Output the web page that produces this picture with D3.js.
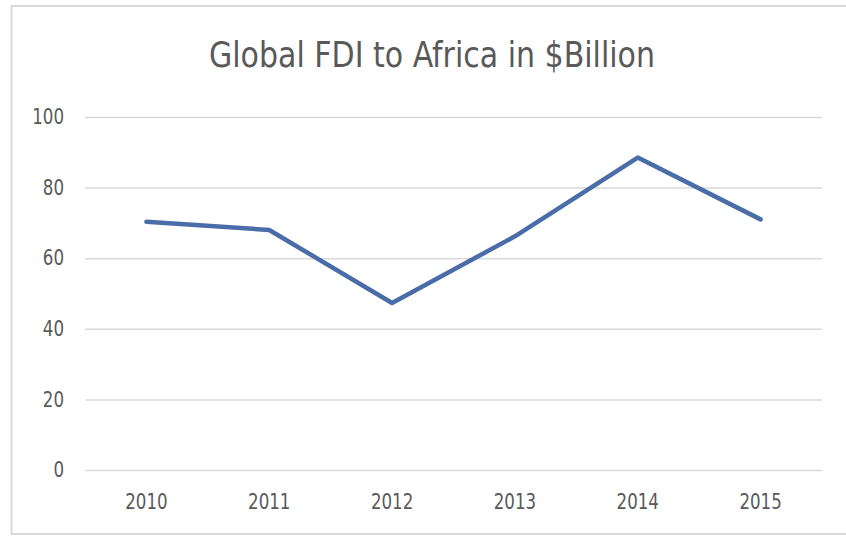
<!DOCTYPE html>
<html>
<head>
<meta charset="utf-8">
<script src="https://cdn.jsdelivr.net/npm/d3@7"></script>
<style>
  html, body { margin: 0; padding: 0; background: #ffffff; }
  svg { display: block; }
  text { font-family: "DejaVu Sans Condensed", "Liberation Sans", sans-serif; fill: #595959; }
</style>
</head>
<body>
<svg id="chart" width="846" height="537"></svg>
<script>
const title = "Global FDI to Africa in $Billion";
const years = ["2010", "2011", "2012", "2013", "2014", "2015"];
const fdi = [70.3, 68.0, 47.3, 66.2, 88.5, 71.0];
const yTicks = [0, 20, 40, 60, 80, 100];

const W = 846, H = 537;
const plot = { left: 85, right: 822, top: 117, bottom: 470 };
const digitW = 10.6;

const svg = d3.select("#chart");

// outer chart border
svg.append("rect")
  .attr("x", 11.5).attr("y", 6).attr("width", W + 10).attr("height", 528)
  .attr("fill", "none").attr("stroke", "#d9d9d9").attr("stroke-width", 2);

const x = d3.scaleBand().domain(years).range([plot.left, plot.right]);
const y = d3.scaleLinear().domain([0, 100]).range([plot.bottom, plot.top]);

// gridlines
svg.append("g")
  .attr("transform", `translate(${plot.left},0)`)
  .call(d3.axisLeft(y).tickValues(yTicks).tickSize(-(plot.right - plot.left)).tickFormat(""))
  .call(g => g.select(".domain").remove())
  .call(g => g.selectAll("line").attr("stroke", "#d9d9d9").attr("stroke-width", 1.5));

// y labels
svg.append("g")
  .attr("transform", `translate(64,0)`)
  .call(d3.axisLeft(y).tickValues(yTicks).tickSize(0).tickPadding(0))
  .call(g => g.select(".domain").remove())
  .call(g => g.selectAll("text")
    .attr("font-size", 21)
    .attr("fill", "#595959")
    .style("font-family", '"DejaVu Sans Condensed", sans-serif')
    .attr("textLength", d => String(d).length * digitW)
    .attr("lengthAdjust", "spacingAndGlyphs")
    .attr("text-anchor", "end"));

// x labels
svg.append("g")
  .attr("transform", `translate(0,${plot.bottom})`)
  .call(d3.axisBottom(x).tickSize(0).tickPadding(24))
  .call(g => g.select(".domain").remove())
  .call(g => g.selectAll("text")
    .attr("font-size", 21)
    .attr("fill", "#595959")
    .style("font-family", '"DejaVu Sans Condensed", sans-serif')
    .attr("textLength", d => String(d).length * digitW)
    .attr("lengthAdjust", "spacingAndGlyphs"));

// line
const line = d3.line()
  .x((d, i) => x(years[i]) + x.bandwidth() / 2)
  .y(d => y(d));

svg.append("path")
  .datum(fdi)
  .attr("d", line)
  .attr("fill", "none")
  .attr("stroke", "#4a6ca8")
  .attr("stroke-width", 4.5)
  .attr("stroke-linejoin", "round")
  .attr("stroke-linecap", "round");

// title
svg.append("text")
  .attr("x", 432).attr("y", 67)
  .attr("text-anchor", "middle")
  .attr("font-size", 35)
  .attr("textLength", 446)
  .attr("lengthAdjust", "spacingAndGlyphs")
  .attr("fill", "#595959")
  .text(title);
</script>
</body>
</html>
